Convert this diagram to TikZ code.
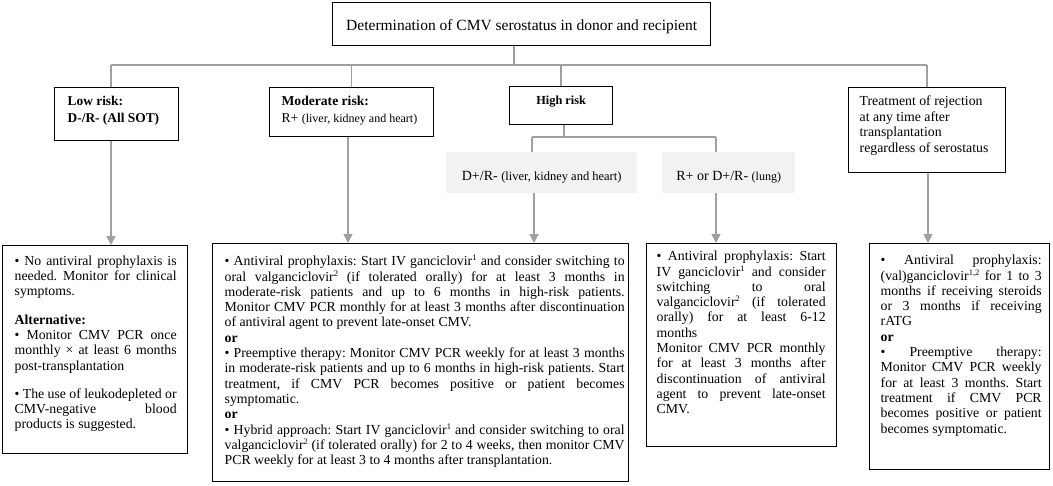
\documentclass[tikz,border=0pt]{standalone}
\usepackage{fontspec}
\setmainfont{Liberation Serif}
\usetikzlibrary{arrows.meta}
\definecolor{ln}{HTML}{A0A0A0}
\definecolor{gfill}{HTML}{F2F2F2}
\frenchspacing
\tikzset{
  bx/.style={draw=black, line width=1.3pt, inner sep=0pt, anchor=north west},
  gbx/.style={fill=gfill, draw=none, inner sep=0pt, anchor=north west},
  conn/.style={draw=ln, line width=1.5pt},
  arr/.style={conn, -{Triangle[width=9pt,length=9pt]}},
}
\newcommand\bodyfont{\fontsize{13.8pt}{15.3pt}\selectfont}
\newcommand\sq[1]{\raisebox{0.36em}{\fontsize{8.5pt}{8pt}\selectfont #1}}
\newcommand\boxin[6]{\begin{minipage}[t][#2][t]{#1}\frenchspacing\leftskip=#3\relax\rightskip=#4\relax\parindent=0pt\tolerance=10000\hbadness=10000\vspace*{#5}#6\end{minipage}}
\begin{document}
\begin{tikzpicture}[x=1pt,y=-1pt]
\useasboundingbox (0,0) rectangle (1053,485);
% header nodes
\node[bx, minimum width=378pt, text height=28.3pt, text depth=14.7pt] (top) at (332,2)
  {\fontsize{15.5pt}{18pt}\selectfont Determination of CMV serostatus in donor and recipient};
\node[bx] (low) at (54,87)
  {\boxin{124pt}{53pt}{13pt}{0pt}{8.5pt}{\fontsize{13.4pt}{17pt}\selectfont\bfseries Low risk:\\ D-/R- (All SOT)}};
\node[bx] (mod) at (269,87)
  {\boxin{164pt}{49pt}{12pt}{0pt}{8.5pt}{\fontsize{13.6pt}{17pt}\selectfont\textbf{Moderate risk:}\\ R+ {\fontsize{12pt}{17pt}\selectfont (liver, kidney and heart)}}};
\node[bx] (hr) at (509,86)
  {\boxin{103pt}{38pt}{0pt}{0pt}{9pt}{\centering\fontsize{12.3pt}{15pt}\selectfont\bfseries High risk\par}};
\node[bx] (tr) at (848,87)
  {\boxin{157pt}{85pt}{11pt}{0pt}{8pt}{\fontsize{13.8pt}{15.7pt}\selectfont Treatment of rejection\\ at any time after\\ transplantation\\ regardless of serostatus}};
\node[gbx, minimum width=191pt, text height=28pt, text depth=13pt] (g1) at (446,152)
  {\fontsize{14pt}{16pt}\selectfont D+/R- {\fontsize{12.5pt}{16pt}\selectfont (liver, kidney and heart)}};
\node[gbx, minimum width=133pt, text height=28pt, text depth=13pt] (g2) at (662,152)
  {\fontsize{14pt}{16pt}\selectfont R+ or D+/R- {\fontsize{12pt}{16pt}\selectfont (lung)}};
% body boxes
\node[bx] (lowb) at (2,245)
  {\boxin{185pt}{208pt}{12pt}{11pt}{10pt}{\bodyfont
  • No antiviral prophylaxis is\linebreak needed. Monitor for clinical\linebreak symptoms.\par\vspace{13pt}
  \textbf{Alternative:}\par
  • Monitor CMV PCR once\linebreak monthly × at least 6 months\linebreak post-transplantation\par\vspace{13pt}
  • The use of leukodepleted or\linebreak CMV-negative blood\linebreak products is suggested.\par}};
\node[bx] (modb) at (212,243)
  {\boxin{416pt}{238pt}{12pt}{4pt}{11.5pt}{\bodyfont
  • Antiviral prophylaxis: Start IV ganciclovir\sq{1} and consider switching to\linebreak oral valganciclovir\sq{2} (if tolerated orally) for at least 3 months in\linebreak moderate-risk patients and up to 6 months in high-risk patients.\linebreak Monitor CMV PCR monthly for at least 3 months after discontinuation\linebreak of antiviral agent to prevent late-onset CMV.\par
  \textbf{or}\par
  • Preemptive therapy: Monitor CMV PCR weekly for at least 3 months\linebreak in moderate-risk patients and up to 6 months in high-risk patients. Start\linebreak treatment, if CMV PCR becomes positive or patient becomes\linebreak symptomatic.\par
  \textbf{or}\par
  • Hybrid approach: Start IV ganciclovir\sq{1} and consider switching to oral\linebreak valganciclovir\sq{2} (if tolerated orally) for 2 to 4 weeks, then monitor CMV\linebreak PCR weekly for at least 3 to 4 months after transplantation.\par}};
\node[bx] (b3) at (646,243)
  {\boxin{190pt}{203pt}{10pt}{11pt}{7.5pt}{\bodyfont
  • Antiviral prophylaxis: Start\linebreak IV ganciclovir\sq{1} and consider\linebreak switching to oral\linebreak valganciclovir\sq{2} (if tolerated\linebreak orally) for at least 6-12\linebreak months\par
  Monitor CMV PCR monthly\linebreak for at least 3 months after\linebreak discontinuation of antiviral\linebreak agent to prevent late-onset\linebreak CMV.\par}};
\node[bx] (b4) at (869,243)
  {\boxin{180pt}{226pt}{11pt}{8pt}{11.5pt}{\bodyfont
  • Antiviral prophylaxis:\linebreak (val)ganciclovir\sq{1,2} for 1 to 3\linebreak months if receiving steroids\linebreak or 3 months if receiving\linebreak rATG\par
  \textbf{or}\par
  • Preemptive therapy:\linebreak Monitor CMV PCR weekly\linebreak for at least 3 months. Start\linebreak treatment if CMV PCR\linebreak becomes positive or patient\linebreak becomes symptomatic.\par}};
% junction coordinates
\coordinate (tj) at (514,65);
\coordinate (busL) at (111,65);
\coordinate (xmod) at (348,0);
\coordinate (hj) at (564,137);
\coordinate (g1j) at (532,137);
\coordinate (g2j) at (716,137);
\coordinate (xg1) at (534,0);
\coordinate (xtr) at (928,0);
% connectors
\draw[conn] (top.south -| tj) -- (tj);
\draw[conn] (busL) -- (tr.north |- busL);
\draw[conn] (busL) -- (busL |- low.north);
\draw[conn] (mod.north |- busL) -- (mod.north);
\draw[conn] (hr.north |- busL) -- (hr.north);
\draw[conn] (tr.north |- busL) -- (tr.north);
\draw[conn] (hr.south -| hj) -- (hj);
\draw[conn] (g1j) -- (g2j);
\draw[conn] (g1j) -- (g1j |- g1.north);
\draw[conn] (g2j) -- (g2j |- g2.north);
% arrows
\draw[arr] (low.south -| busL) -- (lowb.north -| busL);
\draw[arr] (mod.south -| xmod) -- (modb.north -| xmod);
\draw[arr] (g1.south -| xg1) -- (modb.north -| xg1);
\draw[arr] (g2.south -| g2j) -- (b3.north -| g2j);
\draw[arr] (tr.south -| xtr) -- (b4.north -| xtr);
\end{tikzpicture}
\end{document}
